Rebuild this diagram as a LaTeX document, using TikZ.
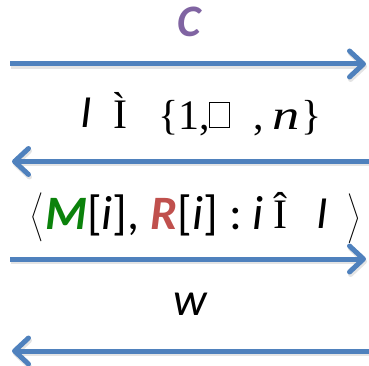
\documentclass[tikz,border=0pt]{standalone}
\usepackage{fontspec}
\usepackage{graphicx}
\setmainfont{Carlito}
\newfontfamily\serif{Liberation Serif}
\usetikzlibrary{arrows.meta}
\definecolor{arrowblue}{HTML}{4F81BD}
\definecolor{cpurple}{HTML}{8064A2}
\definecolor{mgreen}{HTML}{0B820B}
\definecolor{rred}{HTML}{C0504D}
\tikzset{
  msg/.style={line width=5pt, draw=arrowblue, -{Straight Barb[length=14pt,width=26pt,round]}},
  shade/.style={line width=5pt, draw=black!35, opacity=0.3, -{Straight Barb[length=14pt,width=26pt,round]}},
  lbl/.style={inner sep=0pt, anchor=base, font=\fontsize{45}{48}\selectfont},
  serifl/.style={inner sep=0pt, anchor=base, font=\fontsize{42}{44}\selectfont\serif},
  tofu/.style={draw, line width=0.7pt, inner sep=0pt, minimum width=20pt, minimum height=25pt},
  bracket/.style={inner sep=0pt},
}
\begin{document}
\begin{tikzpicture}[x=1pt,y=-1pt]
\useasboundingbox (0,0) rectangle (369,366);
% end points of the four messages
\coordinate (a1) at (10,64);     \coordinate (b1) at (366,64);
\coordinate (a2) at (380,161.5); \coordinate (b2) at (12,161.5);
\coordinate (a3) at (10,259);    \coordinate (b3) at (366,259);
\coordinate (a4) at (380,351);   \coordinate (b4) at (12,351);
% soft drop shadows
\foreach \i in {1,2,3,4}{
  \draw[shade] ([shift={(1,2.5)}]a\i) -- ([shift={(1,2.5)}]b\i);
}
% messages
\foreach \i in {1,2,3,4}{
  \draw[msg] (a\i) -- (b\i);
}
% labels
\node[lbl] (c) at (189,37) {\bfseries\itshape\color{cpurple}C};
\node[lbl, font=\fontsize{46}{48}\selectfont] (setI) at (86,128) {\itshape I};
\node[serifl] (sub) at (120,129) {Ì};
\node[serifl, anchor=base west] (open) at (158,130) {\{1,};
\node[tofu, anchor=south west] (box) at (209,127.5) {};
\node[serifl, anchor=base west] (close) at (253,130) {,\hspace{0.2em}\scalebox{1.3}[1]{\textit{n}}\hspace{0.05em}\}};
\node[bracket] (lang) at (37.5,217.5) {\scalebox{1.63}{$\Bigg\langle$}};
\node[lbl, anchor=base west, font=\fontsize{48}{48}\selectfont] (pairs) at (45,229)
  {\textcolor{mgreen}{\bfseries\itshape M}[\textit{i}], \textcolor{rred}{\bfseries\itshape R}[\textit{i}]\hspace{0.24em}:\hspace{0.22em}\textit{i}};
\node[serifl] (elem) at (280,228) {Î};
\node[lbl, font=\fontsize{46}{48}\selectfont] (setI2) at (322,228) {\itshape I};
\node[bracket] (rang) at (354,218.5) {\scalebox{1.66}{$\Bigg\rangle$}};
\node[lbl, font=\fontsize{47}{48}\selectfont] (w) at (190,315) {\itshape w};
\end{tikzpicture}
\end{document}
